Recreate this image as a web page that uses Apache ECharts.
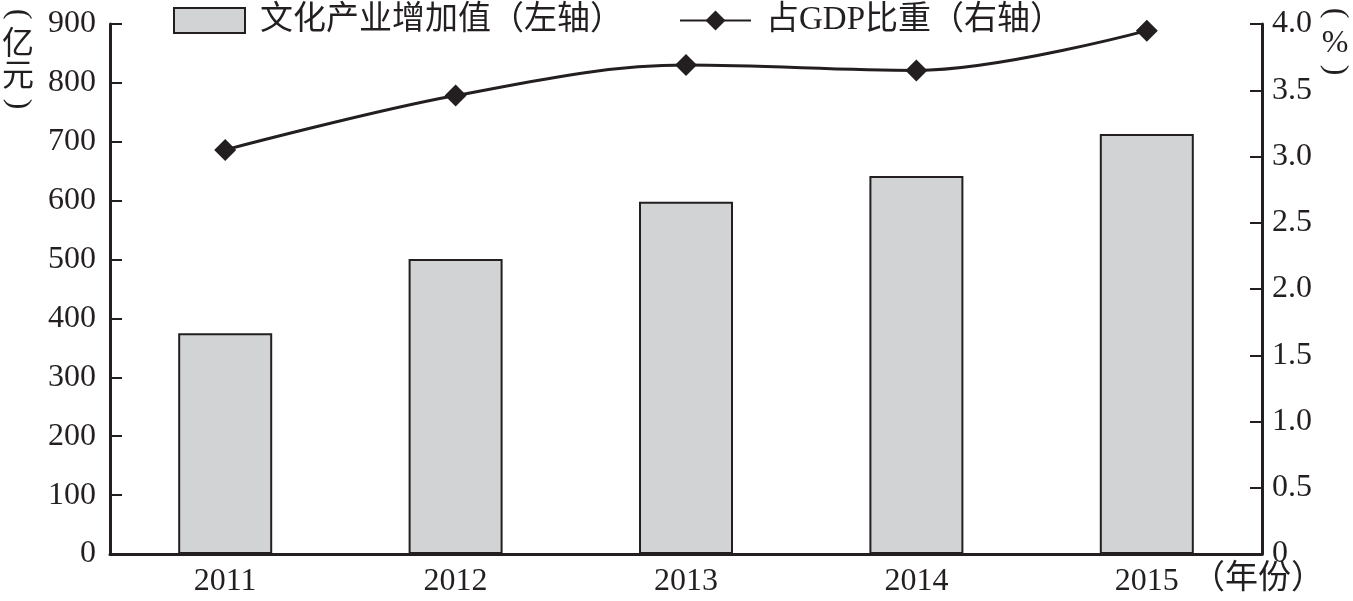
<!DOCTYPE html>
<html><head><meta charset="utf-8">
<script src="https://cdn.jsdelivr.net/npm/echarts@6/dist/echarts.min.js"></script>
<style>html,body{margin:0;padding:0;background:#fff}#c{width:1353px;height:601px}</style>
</head><body><div id="c"></div>
<script>
const categories = ['2011','2012','2013','2014','2015'];
const valueAdded = [375, 501, 598, 642, 713];
const gdpShare = [3.05, 3.46, 3.69, 3.65, 3.95];
const leftTicks = {min:0, max:900, interval:100};
const rightTicks = {min:0, max:4, interval:0.5};

const font = '"Liberation Serif","Noto Sans CJK SC",serif';
const ink = '#231f20';
const R = -Math.PI/2;
function t(x,y,text,rot){
  return {type:'text',x:x,y:y,rotation:rot||0,
    style:{text:text,font:'32px '+font,fill:ink,align:'center',verticalAlign:'middle'}};
}
const chart = echarts.init(document.getElementById('c'));
chart.setOption({
  animation:false,
  backgroundColor:'#fff',
  grid:{left:110,right:91,top:24,bottom:47},
  legend:{
    top:4,left:173,padding:0,itemGap:56,itemWidth:71,itemHeight:25,
    textStyle:{fontFamily:font,fontSize:33,color:ink,padding:[0,0,0,10]},
    data:[{name:'文化产业增加值（左轴）',icon:'rect'},{name:'占GDP比重（右轴）'}]
  },
  xAxis:{
    type:'category',data:categories,
    axisLine:{lineStyle:{color:ink,width:3}},
    axisTick:{inside:true,length:11,lineStyle:{color:ink,width:2}},
    axisLabel:{fontFamily:font,fontSize:32,color:ink,margin:12}
  },
  yAxis:[{
    type:'value',min:leftTicks.min,max:leftTicks.max,interval:leftTicks.interval,
    splitLine:{show:false},
    axisLine:{show:true,lineStyle:{color:ink,width:3}},
    axisTick:{show:true,inside:true,length:12,lineStyle:{color:ink,width:2}},
    axisLabel:{fontFamily:font,fontSize:32,color:ink,margin:14}
  },{
    type:'value',min:rightTicks.min,max:rightTicks.max,interval:rightTicks.interval,
    splitLine:{show:false},
    axisLine:{show:true,lineStyle:{color:ink,width:3}},
    axisTick:{show:true,inside:true,length:12,lineStyle:{color:ink,width:2}},
    axisLabel:{fontFamily:font,fontSize:32,color:ink,margin:10,formatter:v=>v===0?'0':v.toFixed(1)}
  }],
  series:[{
    name:'文化产业增加值（左轴）',type:'bar',data:valueAdded,barWidth:94,
    itemStyle:{color:'#d1d3d4',borderColor:ink,borderWidth:2}
  },{
    name:'占GDP比重（右轴）',type:'line',yAxisIndex:1,data:gdpShare,smooth:0.35,
    symbol:'diamond',symbolSize:22,
    lineStyle:{color:ink,width:3},
    itemStyle:{color:ink}
  }],
  graphic:[
    t(18,14,'(',R), t(18,46,'亿'), t(18,78,'元'), t(18,104,')',R),
    t(1335,13,'(',R), t(1335,44,'%'), t(1335,70,')',R),
    {type:'text',left:1192,top:563,style:{text:'（年份）',font:'33px '+font,fill:ink}}
  ]
});
</script></body></html>
